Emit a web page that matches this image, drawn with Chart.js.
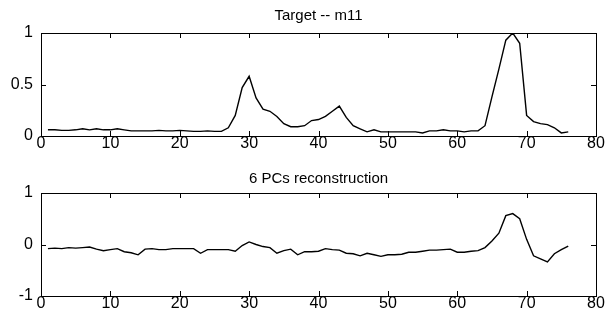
<!DOCTYPE html>
<html>
<head>
<meta charset="utf-8">
<script src="https://cdn.jsdelivr.net/npm/chart.js@4"></script>
<style>
  html, body { margin: 0; padding: 0; background: #fff; }
  .panel { position: absolute; left: 0; width: 605px; height: 161px; }
  #topPanel { top: 0; }
  #bottomPanel { top: 160px; }
</style>
</head>
<body>
<div class="panel" id="topPanel"><canvas id="targetChart"></canvas></div>
<div class="panel" id="bottomPanel"><canvas id="reconChart"></canvas></div>
<script>
// SAMPLE DATA
var sampleNo = [1, 2, 3, 4, 5, 6, 7, 8, 9, 10, 11, 12, 13, 14, 15, 16, 17, 18, 19, 20,
  21, 22, 23, 24, 25, 26, 27, 28, 29, 30, 31, 32, 33, 34, 35, 36, 37, 38, 39, 40,
  41, 42, 43, 44, 45, 46, 47, 48, 49, 50, 51, 52, 53, 54, 55, 56, 57, 58, 59, 60,
  61, 62, 63, 64, 65, 66, 67, 68, 69, 70, 71, 72, 73, 74, 75, 76];
var targetM11 = [0.06, 0.06, 0.055, 0.055, 0.06, 0.07, 0.06, 0.07, 0.06, 0.06,
  0.07, 0.06, 0.05, 0.05, 0.05, 0.05, 0.055, 0.05, 0.05, 0.055,
  0.05, 0.045, 0.045, 0.05, 0.045, 0.045, 0.08, 0.2, 0.47, 0.58,
  0.37, 0.26, 0.24, 0.19, 0.12, 0.09, 0.09, 0.1, 0.15, 0.16,
  0.19, 0.24, 0.29, 0.18, 0.1, 0.07, 0.04, 0.06, 0.04, 0.04,
  0.04, 0.04, 0.04, 0.04, 0.03, 0.05, 0.05, 0.06, 0.05, 0.05,
  0.04, 0.05, 0.05, 0.1, 0.38, 0.65, 0.93, 1.0, 0.9, 0.2,
  0.14, 0.12, 0.11, 0.08, 0.03, 0.04];
var pcsRecon = [-0.08, -0.07, -0.08, -0.06, -0.07, -0.06, -0.05, -0.09, -0.12, -0.1,
  -0.08, -0.14, -0.16, -0.2, -0.09, -0.08, -0.1, -0.1, -0.08, -0.08,
  -0.08, -0.08, -0.17, -0.1, -0.1, -0.1, -0.1, -0.13, -0.02, 0.05,
  0.0, -0.04, -0.06, -0.17, -0.12, -0.09, -0.2, -0.14, -0.14, -0.13,
  -0.08, -0.1, -0.11, -0.17, -0.18, -0.22, -0.17, -0.2, -0.23, -0.2,
  -0.2, -0.19, -0.15, -0.15, -0.13, -0.11, -0.11, -0.1, -0.09, -0.15,
  -0.15, -0.13, -0.12, -0.06, 0.07, 0.22, 0.56, 0.6, 0.5, 0.1,
  -0.22, -0.28, -0.34, -0.18, -0.1, -0.03];
var xTicks = [0, 10, 20, 30, 40, 50, 60, 70, 80];
var targetYTicks = [0, 0.5, 1];
var reconYTicks = [-1, 0, 1];

var fontFamily = "'Liberation Sans', Arial, sans-serif";

// box round the plot area + small inward tick marks on all four sides
var boxTicks = {
  id: "boxTicks",
  afterDraw(chart) {
    var ctx = chart.ctx;
    var a = chart.chartArea;
    var xs = chart.scales.x;
    var ys = chart.scales.y;
    var len = 5;
    ctx.save();
    ctx.strokeStyle = "#000";
    ctx.lineWidth = 1;
    ctx.strokeRect(Math.round(a.left) + 0.5, Math.round(a.top) + 0.5,
      Math.round(a.right - a.left), Math.round(a.bottom - a.top));
    ctx.beginPath();
    xs.ticks.forEach((t) => {
      var px = Math.round(xs.getPixelForValue(t.value)) + 0.5;
      ctx.moveTo(px, a.bottom); ctx.lineTo(px, a.bottom - len);
      ctx.moveTo(px, a.top); ctx.lineTo(px, a.top + len);
    });
    ys.ticks.forEach((t) => {
      var py = Math.round(ys.getPixelForValue(t.value)) + 0.5;
      ctx.moveTo(a.left, py); ctx.lineTo(a.left + len, py);
      ctx.moveTo(a.right, py); ctx.lineTo(a.right - len, py);
    });
    ctx.stroke();
    ctx.restore();
  },
};

// titlePad: space above the title text; the rest goes under it so the plot box starts at 33px
function makeChart(id, title, titlePad, values, yMin, yMax, yTicks) {
  return new Chart(id, {
    type: "line",
    data: {
      datasets: [{
        data: sampleNo.map((x, i) => ({ x: x, y: values[i] })),
        borderColor: "#000",
        borderWidth: 1.4,
        pointRadius: 0,
        tension: 0,
        fill: false,
      }],
    },
    options: {
      responsive: true,
      maintainAspectRatio: false,
      animation: false,
      layout: { padding: { left: 0, right: 9, top: 0, bottom: 0 } },
      plugins: {
        legend: { display: false },
        tooltip: { enabled: false },
        title: {
          display: true,
          text: title,
          fullSize: false,
          color: "#000",
          font: { family: fontFamily, size: 15, weight: "normal", lineHeight: 1.2 },
          padding: { top: titlePad, bottom: 33 - 18 - titlePad },
        },
      },
      scales: {
        x: {
          type: "linear",
          min: 0,
          max: 80,
          afterBuildTicks: (s) => { s.ticks = xTicks.map((v) => ({ value: v })); },
          afterFit: (s) => { s.height = 25; },
          grid: { display: false, drawTicks: false },
          border: { display: false },
          ticks: {
            color: "#000",
            padding: 0,
            maxRotation: 0,
            autoSkip: false,
            font: { family: fontFamily, size: 16, lineHeight: 1 },
          },
        },
        y: {
          min: yMin,
          max: yMax,
          afterBuildTicks: (s) => { s.ticks = yTicks.map((v) => ({ value: v })); },
          afterFit: (s) => { s.width = 41; },
          grid: { display: false, drawTicks: false },
          border: { display: false },
          ticks: {
            color: "#000",
            padding: 8,
            autoSkip: false,
            font: { family: fontFamily, size: 16 },
            callback: (v) => String(v),
          },
        },
      },
    },
    plugins: [boxTicks],
  });
}

makeChart("targetChart", "Target -- m11", 6.5, targetM11, 0, 1, targetYTicks);
makeChart("reconChart", "6 PCs reconstruction", 9.5, pcsRecon, -1, 1, reconYTicks);
</script>
</body>
</html>
